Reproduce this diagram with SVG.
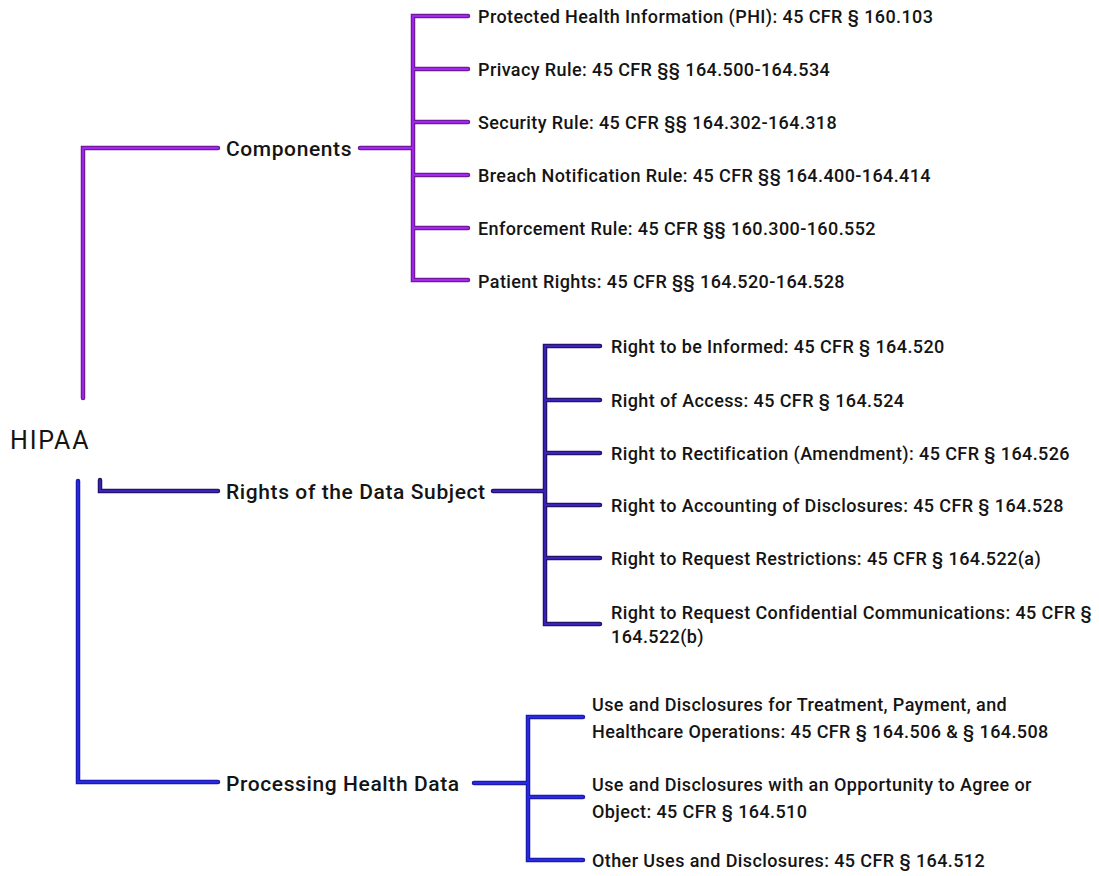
<svg xmlns="http://www.w3.org/2000/svg" width="1099" height="876" viewBox="0 0 1099 876">
<style>
text{font-family:"Roboto","Liberation Sans",sans-serif;fill:#141414;font-size:18px;font-weight:500;letter-spacing:0.4px}
.root{font-size:25px;font-weight:400;letter-spacing:1.8px}
.mid{font-size:21px;letter-spacing:0.6px}
.c{fill:none;stroke-linecap:round;stroke-linejoin:miter}
.p1{stroke:#6e1a9a;stroke-width:4.5}
.p2{stroke:#a526f0;stroke-width:1.8}
.r1{stroke:#24126e;stroke-width:4.5}
.r2{stroke:#3c24b8;stroke-width:1.8}
.b1{stroke:#1a1ab0;stroke-width:4.5}
.b2{stroke:#2a2ae0;stroke-width:1.8}
</style>
<rect width="1099" height="876" fill="#fff"/>
<g id="connectors">
<g id="comp-lines">
<path class="c p1" d="M83 398V148H218M360 148H413M468 16H413V280H468M413 69H468M413 122H468M413 175H468M413 228H468"/>
<path class="c p2" d="M83 398V148H218M360 148H413M468 16H413V280H468M413 69H468M413 122H468M413 175H468M413 228H468"/>
</g>
<g id="rights-lines">
<path class="c r1" d="M100 480V491H218M493 491H545M600 346H545V624H600M545 400H600M545 453H600M545 505H600M545 558H600"/>
<path class="c r2" d="M100 480V491H218M493 491H545M600 346H545V624H600M545 400H600M545 453H600M545 505H600M545 558H600"/>
</g>
<g id="proc-lines">
<path class="c b1" d="M78 481V782H218M474 783H528M583 717H528V860H583M528 797H583"/>
<path class="c b2" d="M78 481V782H218M474 783H528M583 717H528V860H583M528 797H583"/>
</g>
</g>
<g id="hipaa"><text class="root" x="10" y="449">HIPAA</text></g>
<g id="components"><text class="mid" x="226" y="156">Components</text></g>
<g id="c1"><text x="478" y="23">Protected Health Information (PHI): 45 CFR § 160.103</text></g>
<g id="c2"><text x="478" y="76">Privacy Rule: 45 CFR §§ 164.500-164.534</text></g>
<g id="c3"><text x="478" y="129">Security Rule: 45 CFR §§ 164.302-164.318</text></g>
<g id="c4"><text x="478" y="182">Breach Notification Rule: 45 CFR §§ 164.400-164.414</text></g>
<g id="c5"><text x="478" y="235">Enforcement Rule: 45 CFR §§ 160.300-160.552</text></g>
<g id="c6"><text x="478" y="288">Patient Rights: 45 CFR §§ 164.520-164.528</text></g>
<g id="rights"><text class="mid" x="226" y="499">Rights of the Data Subject</text></g>
<g id="r1"><text x="611" y="353">Right to be Informed: 45 CFR § 164.520</text></g>
<g id="r2"><text x="611" y="407">Right of Access: 45 CFR § 164.524</text></g>
<g id="r3"><text x="611" y="460">Right to Rectification (Amendment): 45 CFR § 164.526</text></g>
<g id="r4"><text x="611" y="512">Right to Accounting of Disclosures: 45 CFR § 164.528</text></g>
<g id="r5"><text x="611" y="565">Right to Request Restrictions: 45 CFR § 164.522(a)</text></g>
<g id="r6"><text x="611" y="619">Right to Request Confidential Communications: 45 CFR §</text><text x="611" y="643">164.522(b)</text></g>
<g id="processing"><text class="mid" x="226" y="791">Processing Health Data</text></g>
<g id="p1"><text x="592" y="711">Use and Disclosures for Treatment, Payment, and</text><text x="592" y="738">Healthcare Operations: 45 CFR § 164.506 &amp; § 164.508</text></g>
<g id="p2"><text x="592" y="791">Use and Disclosures with an Opportunity to Agree or</text><text x="592" y="818">Object: 45 CFR § 164.510</text></g>
<g id="p3"><text x="592" y="867">Other Uses and Disclosures: 45 CFR § 164.512</text></g>
</svg>
